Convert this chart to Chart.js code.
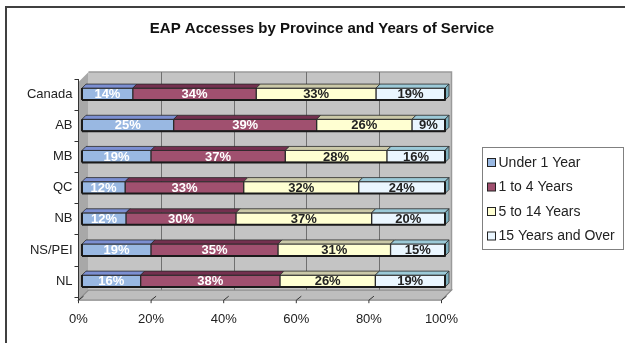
<!DOCTYPE html>
<html><head><meta charset="utf-8">
<script src="https://cdn.jsdelivr.net/npm/chart.js@4.4.0/dist/chart.umd.min.js"></script>
<style>html,body{margin:0;padding:0;background:#fff;}canvas{display:block;}</style>
</head><body>
<canvas id="c" width="625" height="343"></canvas>
<script>
// EAP accesses, share of each service-length group per province (%)
const provinces = ['Canada', 'AB', 'MB', 'QC', 'NB', 'NS/PEI', 'NL'];
const seriesNames = ['Under 1 Year', '1 to 4 Years', '5 to 14 Years', '15 Years and Over'];
const under1Year = [14, 25, 19, 12, 12, 19, 16];
const years1to4 = [34, 39, 37, 33, 30, 35, 38];
const years5to14 = [33, 26, 28, 32, 37, 31, 26];
const years15Plus = [19, 9, 16, 24, 20, 15, 19];
const xTickValues = [0, 20, 40, 60, 80, 100];
const chartTitle = 'EAP Accesses by Province and Years of Service';

const FONT = "'Liberation Sans', Arial, sans-serif";
const frontColors = ['#99B8E2', '#A0506F', '#FFFFD2', '#EAF6FF'];
const topColors   = ['#7C8FD2', '#74304F', '#CBC9A8', '#9CCAD8'];
const labelColors = ['#ffffff', '#ffffff', '#222222', '#222222'];
const sideColor = '#7DAFBD';

const seriesValues = [under1Year, years1to4, years5to14, years15Plus];
// 100% stacked: each bar is scaled to its own row total
const totals = provinces.map((_, i) => seriesValues.reduce((s, arr) => s + arr[i], 0));

const datasets = seriesValues.map((vals, k) => ({
  label: seriesNames[k],
  data: vals.map((v, i) => v / totals[i] * 100),
  rawValues: vals,
  backgroundColor: frontColors[k],
  borderColor: '#2a2a2a',
  borderWidth: 1,
  borderSkipped: false,
  barThickness: 12
}));

const WALL = 6.5;   // depth of back wall behind the bar front plane
const AXIS = 3.5;   // axis plane in front of the bars
const BD = 4;       // bar depth

const scene3d = {
  id: 'scene3d',
  beforeDatasetsDraw(chart) {
    const ctx = chart.ctx;
    const { left, right, top, bottom } = chart.chartArea;
    const xs = chart.scales.x;
    ctx.save();
    // back wall
    ctx.fillStyle = '#C4C4C4';
    ctx.fillRect(left + WALL, top - WALL, right - left, bottom - top);
    ctx.strokeStyle = '#9a9a9a';
    ctx.lineWidth = 1.5;
    ctx.beginPath();
    ctx.moveTo(left + WALL, top - WALL);
    ctx.lineTo(right + WALL, top - WALL);
    ctx.lineTo(right + WALL, bottom - WALL);
    ctx.stroke();
    // vertical gridlines on the wall
    ctx.strokeStyle = '#707070';
    ctx.lineWidth = 1;
    xTickValues.slice(1, -1).forEach(v => {
      const x = Math.round(xs.getPixelForValue(v) + WALL) + 0.5;
      ctx.beginPath();
      ctx.moveTo(x, top - WALL);
      ctx.lineTo(x, bottom - WALL);
      ctx.stroke();
    });
    // left side wall
    ctx.fillStyle = '#A8A8A8';
    ctx.beginPath();
    ctx.moveTo(left - AXIS, top + AXIS);
    ctx.lineTo(left + WALL, top - WALL);
    ctx.lineTo(left + WALL, bottom - WALL);
    ctx.lineTo(left - AXIS, bottom + AXIS);
    ctx.closePath();
    ctx.fill();
    // floor
    ctx.fillStyle = '#BEBEBE';
    ctx.beginPath();
    ctx.moveTo(left - AXIS, bottom + AXIS);
    ctx.lineTo(right - AXIS, bottom + AXIS);
    ctx.lineTo(right + WALL, bottom - WALL);
    ctx.lineTo(left + WALL, bottom - WALL);
    ctx.closePath();
    ctx.fill();
    ctx.strokeStyle = '#8c8c8c';
    ctx.lineWidth = 1.2;
    ctx.stroke();
    // floor tick lines
    ctx.strokeStyle = '#333';
    ctx.lineWidth = 1;
    xTickValues.forEach(v => {
      const xf = xs.getPixelForValue(v) - AXIS;
      ctx.beginPath();
      ctx.moveTo(xf, bottom + AXIS + 3);
      ctx.lineTo(xf, bottom + AXIS);
      ctx.lineTo(xf + 5, bottom + AXIS - 4);
      ctx.stroke();
    });
    // value axis line and category ticks
    ctx.strokeStyle = '#333';
    ctx.beginPath();
    ctx.moveTo(left - AXIS, top + 0.5);
    ctx.lineTo(left - AXIS, bottom + AXIS);
    ctx.stroke();
    const n = chart.data.labels.length;
    const step = (bottom - top) / n;
    for (let i = 0; i <= n; i++) {
      const y = Math.round(top + i * step) + 0.5;
      ctx.beginPath();
      ctx.moveTo(left - AXIS - 4, y);
      ctx.lineTo(left - AXIS, y);
      ctx.stroke();
    }
    ctx.restore();
  },
  afterDatasetsDraw(chart) {
    const ctx = chart.ctx;
    const metas = chart.data.datasets.map((_, k) => chart.getDatasetMeta(k));
    const nCat = chart.data.labels.length;
    ctx.save();
    ctx.lineJoin = 'round';
    for (let i = 0; i < nCat; i++) {
      let startX = null, endX = null, tY = 0, bY = 0;
      metas.forEach((meta, k) => {
        const el = meta.data[i];
        const p = el.getProps(['x', 'y', 'base', 'height'], true);
        const l = Math.min(p.x, p.base), r = Math.max(p.x, p.base);
        const t = p.y - p.height / 2, b = p.y + p.height / 2;
        if (startX === null) startX = l;
        endX = r; tY = t; bY = b;
        // top face
        ctx.fillStyle = topColors[k];
        ctx.strokeStyle = '#2a2a2a';
        ctx.lineWidth = 0.8;
        ctx.beginPath();
        ctx.moveTo(l, t);
        ctx.lineTo(l + BD, t - BD);
        ctx.lineTo(r + BD, t - BD);
        ctx.lineTo(r, t);
        ctx.closePath();
        ctx.fill();
        ctx.stroke();
        // end face on the last segment
        if (k === metas.length - 1) {
          ctx.fillStyle = sideColor;
          ctx.beginPath();
          ctx.moveTo(r, t);
          ctx.lineTo(r + BD, t - BD);
          ctx.lineTo(r + BD, b - BD);
          ctx.lineTo(r, b);
          ctx.closePath();
          ctx.fill();
          ctx.stroke();
        }
      });
      // heavier outline along the bar front
      ctx.strokeStyle = '#1a1a1a';
      ctx.lineWidth = 2;
      ctx.beginPath();
      ctx.moveTo(startX, bY);
      ctx.lineTo(endX, bY);
      ctx.lineTo(endX, tY);
      ctx.stroke();
      ctx.beginPath();
      ctx.moveTo(startX, tY);
      ctx.lineTo(startX, bY);
      ctx.stroke();
    }
    // value labels
    ctx.font = 'bold 13px ' + FONT;
    ctx.textAlign = 'center';
    ctx.textBaseline = 'middle';
    metas.forEach((meta, k) => {
      const raw = chart.data.datasets[k].rawValues;
      meta.data.forEach((el, i) => {
        const p = el.getProps(['x', 'y', 'base'], true);
        ctx.fillStyle = labelColors[k];
        ctx.fillText(raw[i] + '%', (p.x + p.base) / 2, p.y + 0.5);
      });
    });
    ctx.restore();
  },
  afterDraw(chart) {
    const ctx = chart.ctx;
    ctx.save();
    // outer frame
    ctx.strokeStyle = '#404040';
    ctx.lineWidth = 2;
    ctx.beginPath();
    ctx.moveTo(6, 343);
    ctx.lineTo(6, 7);
    ctx.lineTo(625, 7);
    ctx.stroke();
    // title
    ctx.fillStyle = '#111';
    ctx.font = 'bold 15px ' + FONT;
    ctx.textAlign = 'center';
    ctx.textBaseline = 'middle';
    ctx.fillText(chartTitle, 322, 28.5);
    // legend
    ctx.fillStyle = '#fff';
    ctx.fillRect(482, 147.5, 142, 102);
    ctx.strokeStyle = '#808080';
    ctx.lineWidth = 1;
    ctx.strokeRect(482.5, 147.5, 141, 102);
    ctx.font = '14px ' + FONT;
    ctx.textAlign = 'left';
    chart.data.datasets.forEach((ds, k) => {
      const yc = 162.5 + k * 24.5;
      ctx.fillStyle = ds.backgroundColor;
      ctx.fillRect(487.5, yc - 4, 8, 8);
      ctx.strokeStyle = '#222';
      ctx.strokeRect(487.5, yc - 4, 8, 8);
      ctx.fillStyle = '#222';
      ctx.fillText(ds.label, 498.5, yc + 0.5);
    });
    ctx.restore();
  }
};

new Chart(document.getElementById('c'), {
  type: 'bar',
  data: { labels: provinces, datasets },
  options: {
    indexAxis: 'y',
    responsive: false,
    animation: false,
    layout: { padding: { left: 0, top: 78.5, right: 180, bottom: 0 } },
    plugins: { legend: { display: false }, title: { display: false }, tooltip: { enabled: false } },
    scales: {
      x: {
        stacked: true, min: 0, max: 100,
        grid: { display: false, drawTicks: false },
        border: { display: false },
        afterBuildTicks(s) { s.ticks = xTickValues.map(v => ({ value: v })); },
        ticks: { callback: v => v + '%', font: { family: FONT, size: 13 }, color: '#222', padding: 14.5, labelOffset: -3.5, maxRotation: 0 },
        afterFit(s) { s.height = 343 - 296.7; }
      },
      y: {
        stacked: true,
        grid: { display: false, drawTicks: false },
        border: { display: false },
        ticks: { font: { family: FONT, size: 13 }, color: '#222', padding: 9.5 },
        afterFit(s) { s.width = 82; }
      }
    }
  },
  plugins: [scene3d]
});
</script>
</body></html>
